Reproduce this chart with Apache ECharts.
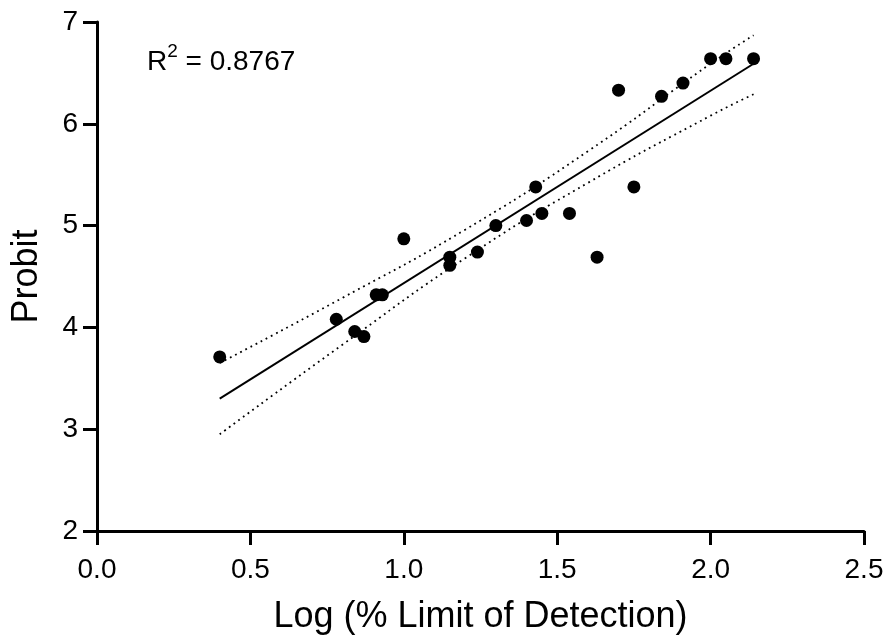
<!DOCTYPE html>
<html>
<head>
<meta charset="utf-8">
<title>Probit vs Log (% Limit of Detection)</title>
<script src="https://cdn.jsdelivr.net/npm/echarts@6/dist/echarts.min.js"></script>
<style>
  html, body { margin: 0; padding: 0; background: #fff; }
  #chart { width: 887px; height: 640px; }
</style>
</head>
<body>
<div id="chart"></div>
<script>
// observed points
const logLod = [0.40, 0.78, 0.84, 0.87, 0.91, 0.93, 1.00, 1.15, 1.15, 1.24, 1.30, 1.40,
  1.43, 1.45, 1.54, 1.63, 1.70, 1.75, 1.84, 1.91, 2.00, 2.05, 2.14];
const probit = [3.71, 4.08, 3.96, 3.91, 4.32, 4.32, 4.87, 4.61, 4.69, 4.74, 5.00, 5.05,
  5.38, 5.12, 5.12, 4.69, 6.33, 5.38, 6.27, 6.40, 6.64, 6.64, 6.64];

// fitted line and dotted band
const fitX = [0.40, 2.14];
const fitY = [3.30, 6.59];
const bandX = [0.40, 0.80, 1.20, 1.60, 2.00, 2.14];
const bandUpper = [3.65, 4.29, 4.96, 5.73, 6.59, 6.87];
const bandLower = [2.95, 3.83, 4.68, 5.42, 6.08, 6.29];

const xTicks = [0, 0.5, 1, 1.5, 2, 2.5];
const yTicks = [2, 3, 4, 5, 6, 7];
const rSquared = '0.8767';

const FONT = '"Liberation Sans", Arial, sans-serif';

const zip = (xs, ys) => xs.map((x, i) => [x, ys[i]]);

const chart = echarts.init(document.getElementById('chart'));

const axisCommon = {
  axisLine: { show: true, lineStyle: { color: '#000', width: 3 } },
  axisTick: { show: true, length: 14, lineStyle: { color: '#000', width: 3 } },
  splitLine: { show: false },
  nameTextStyle: { color: '#000', fontSize: 36, fontFamily: FONT },
};

const option = {
  backgroundColor: '#fff',
  animation: false,
  grid: { left: 97, right: 23, top: 22, bottom: 107 },
  graphic: [
    {
      type: 'text',
      left: 147,
      top: 42,
      style: {
        text: '{r|R}{sup|2}{r| = ' + rSquared + '}',
        rich: {
          r: { fontSize: 28, fontFamily: FONT, fill: '#000', verticalAlign: 'bottom', lineHeight: 34 },
          sup: { fontSize: 19, fontFamily: FONT, fill: '#000', verticalAlign: 'top', lineHeight: 34, padding: [0, 0, 20, 0] },
        },
      },
    },
  ],
  xAxis: {
    ...axisCommon,
    type: 'value',
    min: xTicks[0],
    max: xTicks[xTicks.length - 1],
    interval: 0.5,
    name: 'Log (% Limit of Detection)',
    nameLocation: 'middle',
    nameGap: 68,
    axisLabel: {
      color: '#000',
      fontSize: 28,
      fontFamily: FONT,
      margin: 25,
      formatter: (v) => v.toFixed(1),
    },
  },
  yAxis: {
    ...axisCommon,
    type: 'value',
    min: yTicks[0],
    max: yTicks[yTicks.length - 1],
    interval: 1,
    name: 'Probit',
    nameLocation: 'middle',
    nameGap: 52,
    axisLabel: {
      color: '#000',
      fontSize: 28,
      fontFamily: FONT,
      margin: 19,
    },
  },
  series: [
    {
      name: 'upper',
      type: 'line',
      data: zip(bandX, bandUpper),
      smooth: true,
      showSymbol: false,
      lineStyle: { color: '#000', width: 1.8, type: [1.8, 4] },
      z: 2,
    },
    {
      name: 'lower',
      type: 'line',
      data: zip(bandX, bandLower),
      smooth: true,
      showSymbol: false,
      lineStyle: { color: '#000', width: 1.8, type: [1.8, 4] },
      z: 2,
    },
    {
      name: 'fit',
      type: 'line',
      data: zip(fitX, fitY),
      showSymbol: false,
      lineStyle: { color: '#000', width: 2 },
      z: 3,
    },
    {
      name: 'points',
      type: 'scatter',
      data: zip(logLod, probit),
      symbol: 'circle',
      symbolSize: 13,
      itemStyle: { color: '#000', opacity: 1 },
      z: 4,
    },
  ],
};

chart.setOption(option);
</script>
</body>
</html>
